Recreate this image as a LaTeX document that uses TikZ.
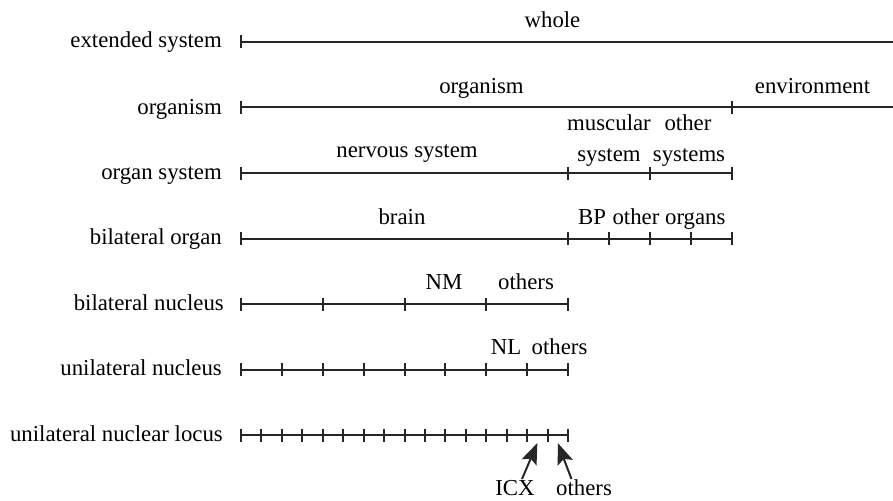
\documentclass[tikz,border=0pt]{standalone}
\usepackage{fontspec}
\setmainfont{Liberation Serif}
\usetikzlibrary{arrows.meta}
\begin{document}
\begin{tikzpicture}[x=1pt,y=-1pt,
  lbl/.style={inner sep=0pt, anchor=base east, font=\fontsize{22.8}{26}\selectfont},
  txt/.style={inner sep=0pt, anchor=base, font=\fontsize{22.8}{26}\selectfont},
  bar/.style={line width=2pt, draw=black!85},
  tickmark/.style={line width=2pt, draw=black!85},
  pointer/.style={line width=2pt, draw=black!85, fill=black!85, -{Stealth[length=21pt,width=16pt,inset=4pt]}}]
\useasboundingbox (0,0) rectangle (893,500);
\def\xo{241}
\def\un{20.4375}
% ---- row 1: extended system
\node[lbl] (l1) at (222,48) {extended system};
\coordinate (a1) at (\xo,42);
\coordinate (b1) at (893,42);
\draw[bar] (a1) -- (b1);
\draw[tickmark] ([yshift=6.5pt]a1) -- ([yshift=-6.5pt]a1);
\node[txt] (whole) at (552.5,28) {whole};
% ---- row 2: organism
\node[lbl] (l2) at (222,114) {organism};
\coordinate (a2) at (\xo,107.5);
\coordinate (b2) at (893,107.5);
\draw[bar] (a2) -- (b2);
\foreach \k in {0,24}{\draw[tickmark] ([xshift=\k*\un pt,yshift=6.5pt]a2) -- ([xshift=\k*\un pt,yshift=-6.5pt]a2);}
\node[txt] (org) at (481.5,94) {organism};
\node[txt] (env) at (812.5,94) {environment};
% ---- row 3: organ system
\node[lbl] (l3) at (222,179) {organ system};
\coordinate (a3) at (\xo,173);
\coordinate (b3) at ({\xo+24*\un},173);
\draw[bar] (a3) -- (b3);
\foreach \k in {0,16,20,24}{\draw[tickmark] ([xshift=\k*\un pt,yshift=6.5pt]a3) -- ([xshift=\k*\un pt,yshift=-6.5pt]a3);}
\node[txt] (nerv) at (407,157) {nervous system};
\node[txt] (musc1) at (609,131) {muscular};
\node[txt] (musc2) at (609,161.5) {system};
\node[txt] (oth1) at (688,131) {other};
\node[txt] (oth2) at (689,161.5) {systems};
% ---- row 4: bilateral organ
\node[lbl] (l4) at (222,244.5) {bilateral organ};
\coordinate (a4) at (\xo,238.5);
\coordinate (b4) at ({\xo+24*\un},238.5);
\draw[bar] (a4) -- (b4);
\foreach \k in {0,16,18,20,22,24}{\draw[tickmark] ([xshift=\k*\un pt,yshift=6.5pt]a4) -- ([xshift=\k*\un pt,yshift=-6.5pt]a4);}
\node[txt] (brain) at (402,224) {brain};
\node[txt] (bp) at (592,224) {BP};
\node[txt] (othorg) at (669,224) {other organs};
% ---- row 5: bilateral nucleus
\node[lbl] (l5) at (224,310) {bilateral nucleus};
\coordinate (a5) at (\xo,304);
\coordinate (b5) at ({\xo+16*\un},304);
\draw[bar] (a5) -- (b5);
\foreach \k in {0,4,...,16}{\draw[tickmark] ([xshift=\k*\un pt,yshift=6.5pt]a5) -- ([xshift=\k*\un pt,yshift=-6.5pt]a5);}
\node[txt] (nm) at (444,289) {NM};
\node[txt] (oth5) at (526,289) {others};
% ---- row 6: unilateral nucleus
\node[lbl] (l6) at (222,375.5) {unilateral nucleus};
\coordinate (a6) at (\xo,369.5);
\coordinate (b6) at ({\xo+16*\un},369.5);
\draw[bar] (a6) -- (b6);
\foreach \k in {0,2,...,16}{\draw[tickmark] ([xshift=\k*\un pt,yshift=6.5pt]a6) -- ([xshift=\k*\un pt,yshift=-6.5pt]a6);}
\node[txt] (nl) at (506,354) {NL};
\node[txt] (oth6) at (559.5,354) {others};
% ---- row 7: unilateral nuclear locus
\node[lbl] (l7) at (223,441) {unilateral nuclear locus};
\coordinate (a7) at (\xo,435);
\coordinate (b7) at ({\xo+16*\un},435);
\draw[bar] (a7) -- (b7);
\foreach \k in {0,...,16}{\draw[tickmark] ([xshift=\k*\un pt,yshift=6.5pt]a7) -- ([xshift=\k*\un pt,yshift=-6.5pt]a7);}
\node[txt] (icx) at (515,495) {ICX};
\node[txt] (oth7) at (584,495) {others};
\coordinate (icxtail) at (522,479);
\coordinate (icxtip) at ({\xo+14.5*\un},443);
\coordinate (othtail) at (571.5,479);
\coordinate (othtip) at ({\xo+15.5*\un},443);
\draw[pointer] (icxtail) -- (icxtip);
\draw[pointer] (othtail) -- (othtip);
\end{tikzpicture}
\end{document}
